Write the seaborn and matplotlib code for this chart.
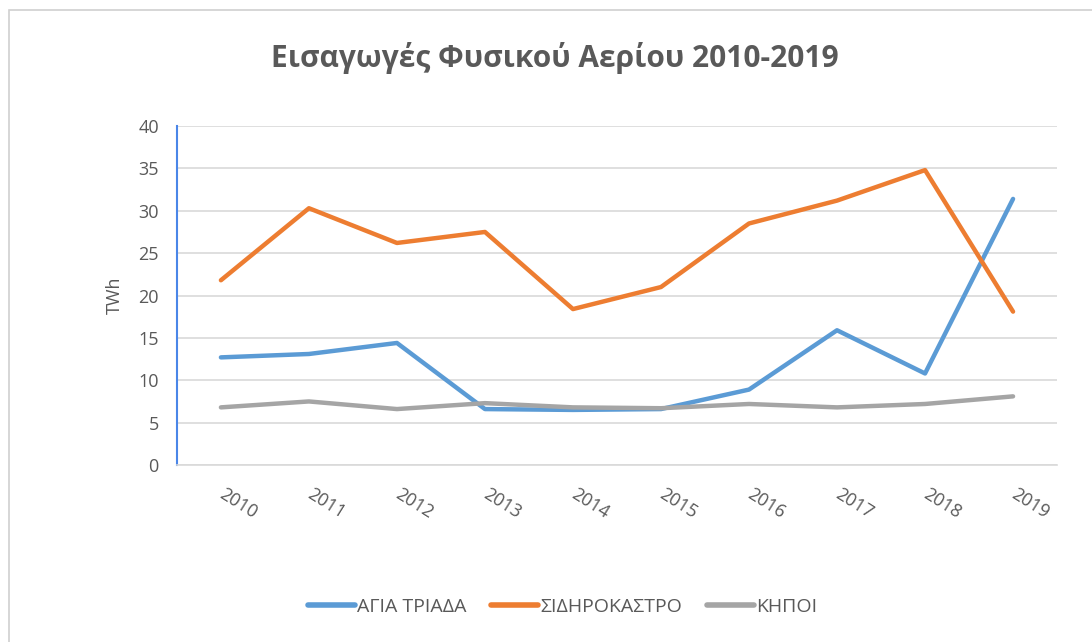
import pandas as pd
import matplotlib.pyplot as plt
import seaborn as sb
from matplotlib.patches import Rectangle

# Δεδομένα (TWh) διαβασμένα από το γράφημα
eti = [2010, 2011, 2012, 2013, 2014, 2015, 2016, 2017, 2018, 2019]
agia_triada = [12.7, 13.1, 14.4, 6.6, 6.5, 6.6, 8.9, 15.9, 10.8, 31.4]
sidirokastro = [21.8, 30.3, 26.2, 27.5, 18.4, 21.0, 28.5, 31.2, 34.8, 18.1]
kipoi = [6.8, 7.5, 6.6, 7.3, 6.8, 6.7, 7.2, 6.8, 7.2, 8.1]
onomata = ["ΑΓΙΑ ΤΡΙΑΔΑ", "ΣΙΔΗΡΟΚΑΣΤΡΟ", "ΚΗΠΟΙ"]
xromata = ["#5B9BD5", "#ED7D31", "#A5A5A5"]

veri = pd.DataFrame({
    "Έτος": eti * 3,
    "TWh": agia_triada + sidirokastro + kipoi,
    "Σημείο": [o for o in onomata for _ in eti],
})

sb.set_style("white")
plt.rcParams["font.family"] = ["Open Sans", "DejaVu Sans"]
keimeno = "#595959"

fig = plt.figure(figsize=(10.92, 6.42), dpi=100)
ax = fig.add_axes([0.162, 0.2757, 0.806, 0.528])

# πλαίσιο γραφήματος
fig.patches.append(Rectangle((9 / 1092, -0.1), 1.2, 1 - 10 / 642 + 0.1,
                             transform=fig.transFigure, fill=False,
                             edgecolor="#D0D0D0", linewidth=1.2))

sb.lineplot(data=veri, x="Έτος", y="TWh", hue="Σημείο", hue_order=onomata,
            palette=xromata, linewidth=3.2, ax=ax, legend=True)

ax.set_xlim(2009.5, 2019.5)
ax.set_ylim(0, 40)
ax.set_yticks(range(0, 41, 5))
ax.set_xticks(eti)
ax.set_xticks([e + 0.5 for e in eti[:-1]] + [2009.5], minor=True)
ax.grid(axis="y", color="#D9D9D9", linewidth=1.2)
ax.set_axisbelow(True)

for s in ["top", "right"]:
    ax.spines[s].set_visible(False)
ax.spines["left"].set_color("#4A86E8")
ax.spines["left"].set_linewidth(1.5)
ax.spines["bottom"].set_color("#D9D9D9")
ax.spines["bottom"].set_linewidth(1.2)

ax.tick_params(axis="y", length=0, pad=13, labelsize=13, labelcolor=keimeno)
ax.tick_params(axis="x", which="major", length=0, pad=20, labelsize=13,
               labelcolor=keimeno)
ax.tick_params(axis="x", which="minor", length=5, color="#D9D9D9", width=1.2)
for lbl in ax.get_xticklabels():
    lbl.set_rotation(-32)
    lbl.set_ha("left")
    lbl.set_va("center")
    lbl.set_rotation_mode("anchor")

ax.set_xlabel("")
ax.set_ylabel("TWh", fontsize=13, color=keimeno, labelpad=10)

fig.text(0.508, 0.91, "Εισαγωγές Φυσικού Αερίου 2010-2019", ha="center",
         va="center", fontsize=21.5, fontweight="bold", color=keimeno)

leg = ax.legend(loc="center", bbox_to_anchor=(0.515, 0.055),
                bbox_transform=fig.transFigure, ncol=3, frameon=False,
                fontsize=14, handlelength=2.4, columnspacing=1.3,
                handletextpad=0.1)
for t in leg.get_texts():
    t.set_color(keimeno)
for h in leg.get_lines():
    h.set_linewidth(4)

fig.savefig("out.png", dpi=100)
